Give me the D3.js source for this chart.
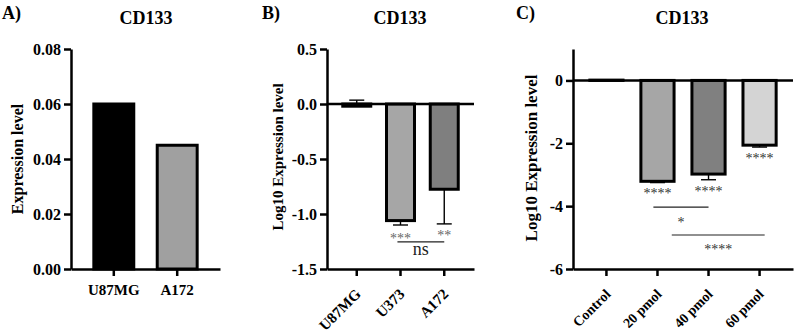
<!DOCTYPE html>
<html>
<head>
<meta charset="utf-8">
<script src="https://cdn.jsdelivr.net/npm/d3@7"></script>
<style>
  body { margin: 0; background: #fff; }
</style>
</head>
<body>
<svg id="chart"></svg>
<script>
const width = 797;
const height = 334;
const serif = "Liberation Serif";

// panel A
const aCats = ["U87MG", "A172"];
const aValues = [0.06, 0.045];
const aTicks = [0, 0.02, 0.04, 0.06, 0.08];

// panel B
const bCats = ["U87MG", "U373", "A172"];
const bValues = [-0.02, -1.06, -0.775];
const bErrEnds = [0.035, -1.10, -1.09];
const bTicks = [0.5, 0, -0.5, -1.0, -1.5];
const bStars = ["", "***", "**"];

// panel C
const cCats = ["Control", "20 pmol", "40 pmol", "60 pmol"];
const cValues = [0.01, -3.21, -2.98, -2.06];
const cErrEnds = [0.01, -3.25, -3.16, -2.12];
const cTicks = [0, -2, -4, -6];
const cStars = ["", "****", "****", "****"];

const svg = d3.select("#chart")
    .attr("width", width)
    .attr("height", height)
    .attr("font-family", serif);

const axisBottomY = 269;
const axisTopY = 49;

function panel(cfg) {
    const g = svg.append("g").attr("font-family", serif);

    const x = d3.scaleBand()
        .domain(cfg.cats)
        .range([cfg.left, cfg.right])
        .paddingInner(cfg.padIn)
        .paddingOuter(cfg.padOut);

    const y = d3.scaleLinear()
        .domain(cfg.yDomain)
        .range([axisBottomY, axisTopY]);

    // letter + title
    g.append("text")
        .attr("x", cfg.letterX).attr("y", 19)
        .attr("font-size", 18).attr("font-weight", "bold")
        .text(cfg.letter);
    g.append("text")
        .attr("x", cfg.titleX).attr("y", 24)
        .attr("text-anchor", "middle")
        .attr("font-size", 18).attr("font-weight", "bold")
        .text("CD133");

    // y label
    g.append("text")
        .attr("transform", `translate(${cfg.yLabelX},${cfg.yLabelY}) rotate(-90)`)
        .attr("text-anchor", "middle")
        .attr("font-size", cfg.yLabelSize).attr("font-weight", "bold")
        .text(cfg.yLabel);

    // error bars (drawn first, bars on top)
    if (cfg.errEnds) {
        const eg = g.append("g").attr("stroke", "#000").attr("stroke-width", 1.4);
        cfg.cats.forEach((c, i) => {
            const cx = x(c) + x.bandwidth() / 2;
            eg.append("line")
                .attr("x1", cx).attr("x2", cx)
                .attr("y1", y(cfg.values[i])).attr("y2", y(cfg.errEnds[i]));
            eg.append("line")
                .attr("x1", cx - 7.5).attr("x2", cx + 7.5)
                .attr("y1", y(cfg.errEnds[i])).attr("y2", y(cfg.errEnds[i]));
        });
    }

    // bars
    g.selectAll(".bar")
        .data(cfg.values)
        .enter()
        .append("rect")
        .attr("class", "bar")
        .attr("x", (d, i) => x(cfg.cats[i]))
        .attr("y", d => Math.min(y(d), y(0)))
        .attr("width", x.bandwidth())
        .attr("height", d => Math.abs(y(d) - y(0)))
        .attr("fill", (d, i) => cfg.colors[i])
        .attr("stroke", "#000")
        .attr("stroke-width", 3);

    // zero line
    if (cfg.zeroLine) {
        g.append("line")
            .attr("x1", cfg.left).attr("x2", cfg.right)
            .attr("y1", y(0)).attr("y2", y(0))
            .attr("stroke", "#000").attr("stroke-width", 2.5);
    }

    // y axis
    const yAxis = d3.axisLeft(y)
        .tickValues(cfg.ticks)
        .tickSize(7)
        .tickSizeOuter(0)
        .tickPadding(3)
        .tickFormat(cfg.fmt);
    const yg = g.append("g")
        .attr("transform", `translate(${cfg.left},0)`)
        .call(yAxis)
        .attr("font-family", serif);
    yg.selectAll("path, line").attr("stroke", "#000").attr("stroke-width", 2.5);
    yg.selectAll("text")
        .attr("font-size", 16).attr("font-weight", "bold").attr("fill", "#000");

    // x axis
    const xAxis = d3.axisBottom(x).tickSize(7).tickSizeOuter(0);
    const xg = g.append("g")
        .attr("transform", `translate(0,${axisBottomY})`)
        .call(xAxis)
        .attr("font-family", serif);
    xg.selectAll("path, line").attr("stroke", "#000").attr("stroke-width", 2.5);
    const xt = xg.selectAll("text")
        .attr("font-size", cfg.xLabelSize).attr("font-weight", "bold").attr("fill", "#000");
    if (cfg.rotate) {
        xt.attr("x", null).attr("y", null).attr("dy", null)
            .attr("text-anchor", "end")
            .attr("transform", `translate(5,${cfg.labelDrop}) rotate(-45)`);
    } else {
        xt.attr("y", 26).attr("dy", null);
    }

    // stars under bars
    if (cfg.stars) {
        cfg.stars.forEach((s, i) => {
            if (!s) return;
            g.append("text")
                .attr("x", x(cfg.cats[i]) + x.bandwidth() / 2)
                .attr("y", y(cfg.starV[i]))
                .attr("text-anchor", "middle")
                .attr("font-size", 14)
                .attr("fill", cfg.starColor)
                .text(s);
        });
    }

    // comparison lines
    (cfg.sig || []).forEach(sg => {
        const x1 = x(sg.from) + x.bandwidth() / 2 + sg.fromShift * x.step();
        const x2 = x(sg.to) + x.bandwidth() / 2 + sg.toShift * x.step();
        g.append("line")
            .attr("x1", x1).attr("x2", x2)
            .attr("y1", y(sg.v)).attr("y2", y(sg.v))
            .attr("stroke", "#222").attr("stroke-width", 1.1);
        g.append("text")
            .attr("x", (x1 + x2) / 2)
            .attr("y", y(sg.labelV))
            .attr("text-anchor", "middle")
            .attr("font-size", sg.size)
            .attr("fill", sg.color)
            .text(sg.label);
    });
}

panel({
    letter: "A)", letterX: 2, titleX: 146,
    cats: aCats, values: aValues, colors: ["#000", "#a0a0a0"],
    left: 71, right: 220, padIn: 0.37, padOut: 0.36,
    yDomain: [0, 0.08], ticks: aTicks, fmt: d3.format(".2f"),
    yLabel: "Expression level", yLabelX: 23, yLabelY: 159, yLabelSize: 16,
    xLabelSize: 15, rotate: false
});

panel({
    letter: "B)", letterX: 262, titleX: 400,
    cats: bCats, values: bValues, errEnds: bErrEnds,
    colors: ["#000", "#a6a6a6", "#7f7f7f"],
    left: 327, right: 474, padIn: 0.36, padOut: 0.36,
    yDomain: [-1.5, 0.5], ticks: bTicks, fmt: d => d.toFixed(1),
    yLabel: "Log10 Expression level", yLabelX: 283, yLabelY: 157, yLabelSize: 15,
    xLabelSize: 15, rotate: true, labelDrop: 26, zeroLine: true,
    stars: bStars, starV: [0, -1.263, -1.235], starColor: "#666",
    sig: [{ from: "U373", to: "A172", fromShift: -0.07, toShift: 0, v: -1.253,
            label: "ns", labelV: -1.373, size: 18, color: "#222" }]
});

panel({
    letter: "C)", letterX: 516, titleX: 682,
    cats: cCats, values: cValues, errEnds: cErrEnds,
    colors: ["#000", "#a6a6a6", "#808080", "#d4d4d4"],
    left: 573, right: 793, padIn: 0.35, padOut: 0.33,
    yDomain: [-6, 1], ticks: cTicks, fmt: d => String(d),
    yLabel: "Log10 Expression level", yLabelX: 537, yLabelY: 158, yLabelSize: 17,
    xLabelSize: 14, rotate: true, labelDrop: 26, zeroLine: true,
    stars: cStars, starV: [0, -3.74, -3.69, -2.64], starColor: "#333",
    sig: [
        { from: "20 pmol", to: "40 pmol", fromShift: -0.08, toShift: 0, v: -4.03,
          label: "*", labelV: -4.65, size: 14, color: "#333" },
        { from: "20 pmol", to: "60 pmol", fromShift: 0.28, toShift: 0.1, v: -4.92,
          label: "****", labelV: -5.51, size: 14, color: "#333" }
    ]
});
</script>
</body>
</html>
